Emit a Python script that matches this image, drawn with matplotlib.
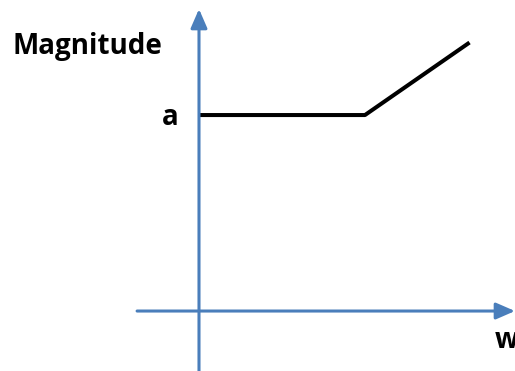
import matplotlib
matplotlib.use("Agg")
import matplotlib.pyplot as plt

# frequency response sketch: flat at "a" then rising
w = [0.0, 1.0, 1.63]
magnitude = [1.0, 1.0, 1.37]

axis_color = "#4A7EBB"

fig = plt.figure(figsize=(5.15, 3.71), dpi=100)
ax = fig.add_axes([0, 0, 1, 1])
ax.set_xlim(-1.199, 1.904)
ax.set_ylim(-0.306, 1.587)
ax.axis("off")

# axes with arrow heads
arrow = dict(arrowstyle="-|>,head_length=1.15,head_width=0.5", mutation_scale=10,
             color=axis_color, lw=2.2, shrinkA=0, shrinkB=0)
ax.annotate("", xy=(1.904, 0), xytext=(-0.373, 0), arrowprops=arrow)
ax.annotate("", xy=(0, 1.541), xytext=(0, -0.306), arrowprops=arrow)

ax.plot(w, magnitude, color="black", lw=2.9, solid_capstyle="butt")

font = dict(family=["Open Sans", "DejaVu Sans"], fontweight="bold", fontsize=20)
ax.text(-1.125, 1.35, "Magnitude", ha="left", va="center", **font)
ax.text(-0.175, 0.985, "a", ha="center", va="center", **font)
# the "w" label runs off the right edge, as in the original sketch
ax.text(1.783, -0.15, "w", ha="left", va="center", **font)

fig.savefig("out.png", dpi=100)
